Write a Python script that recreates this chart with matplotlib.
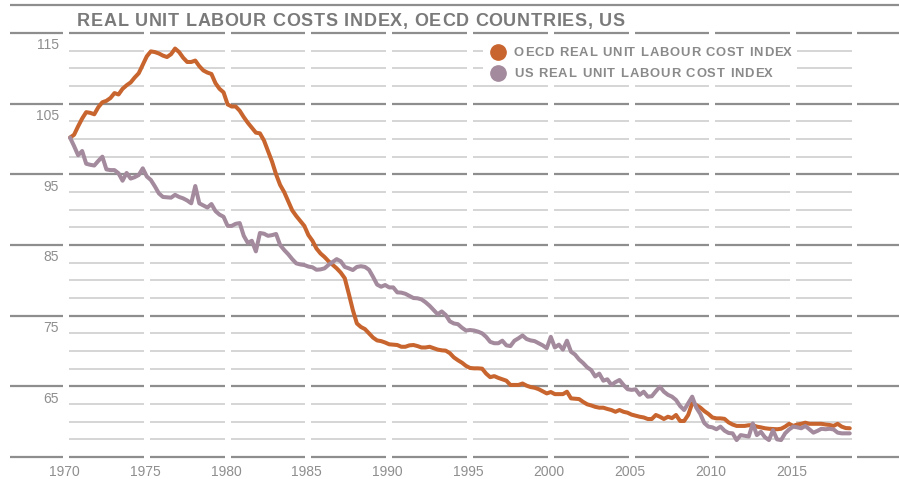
import numpy as np
import matplotlib
matplotlib.use("Agg")
import matplotlib.pyplot as plt
from matplotlib.lines import Line2D
from matplotlib.patches import Rectangle
from matplotlib.font_manager import FontProperties

# quarterly index values, 1970Q2 .. 2018Q3 (one row per year, 4 quarters)
oecd = [
    102.7, 103.1, 104.3, 105.4,  106.3, 106.2, 106.0, 107.0,  107.7, 107.9, 108.3, 109.0,
    108.8, 109.6, 110.1, 110.5,  111.2, 111.8, 113.0, 114.2,  114.9, 114.8, 114.6, 114.3,
    114.1, 114.5, 115.3, 114.8,  114.0, 113.4, 113.4, 113.6,  112.8, 112.2, 111.9, 111.7,
    110.4, 109.6, 109.1, 107.4,  107.1, 107.1, 106.5, 105.6,  104.8, 104.1, 103.4, 103.3,
    102.3, 100.8, 99.3, 97.5,    96.0, 95.0, 93.7, 92.4,      91.6, 90.9, 90.2, 88.9,
    88.1, 87.0, 86.3, 85.8,      85.2, 84.7, 84.2, 83.6,      82.8, 80.6, 78.3, 76.4,
    75.9, 75.6, 75.0, 74.4,      74.0, 73.9, 73.7, 73.45,     73.4, 73.35, 73.1, 73.1,
    73.3, 73.35, 73.2, 73.0,     73.0, 73.1, 72.9, 72.7,      72.6, 72.55, 72.2, 71.6,
    71.2, 70.85, 70.4, 70.1,     70.05, 70.05, 70.0, 69.3,    68.8, 68.95, 68.7, 68.5,
    68.3, 67.7, 67.7, 67.7,      67.9, 67.6, 67.4, 67.3,      67.1, 66.8, 66.5, 66.7,
    66.4, 66.4, 66.4, 66.74,     65.8, 65.75, 65.7, 65.3,     64.96, 64.8, 64.6, 64.48,
    64.48, 64.3, 64.15, 63.9,    64.15, 63.9, 63.77, 63.5,    63.35, 63.2, 63.1, 62.88,
    62.88, 63.45, 63.2, 62.88,   63.2, 63.0, 63.45, 62.6,     62.6, 63.45, 65.1, 64.86,
    64.5, 64.0, 63.6, 63.1,      62.97, 62.97, 62.9, 62.4,    62.1, 61.9, 61.9, 61.9,
    62.0, 62.0, 61.8, 61.7,      61.57, 61.5, 61.47, 61.43,   61.5, 61.8, 62.2, 61.9,
    62.1, 62.2, 62.36, 62.2,     62.2, 62.2, 62.2, 62.1,      62.04, 61.9, 62.2, 61.8,
    61.6, 61.57,
]
us = [
    102.7, 101.5, 100.2, 100.8,  99.0, 98.85, 98.75, 99.4,    100.0, 98.2, 98.1, 98.1,
    97.65, 96.6, 97.7, 96.9,     97.1, 97.4, 98.35, 97.2,     96.7, 95.8, 94.8, 94.3,
    94.25, 94.2, 94.6, 94.3,     94.1, 93.8, 93.4, 95.85,     93.4, 93.1, 92.8, 93.3,
    92.3, 91.8, 91.5, 90.2,      90.2, 90.5, 90.6, 88.8,      87.8, 88.1, 86.6, 89.2,
    89.1, 88.8, 88.9, 89.06,     87.5, 86.8, 86.2, 85.5,      84.9, 84.75, 84.67, 84.45,
    84.35, 84.0, 84.05, 84.2,    84.7, 85.1, 85.5, 85.2,      84.4, 84.2, 83.96, 84.4,
    84.5, 84.4, 84.0, 83.0,      81.9, 81.6, 81.84, 81.5,     81.5, 80.8, 80.76, 80.6,
    80.3, 80.0, 79.96, 79.8,     79.4, 78.9, 78.3, 77.7,      78.1, 77.6, 76.7, 76.4,
    76.3, 75.8, 75.4, 75.47,     75.4, 75.24, 75.0, 74.5,     73.8, 73.6, 73.6, 73.96,
    73.3, 73.2, 73.96, 74.3,     74.7, 74.2, 74.0, 73.9,      73.6, 73.3, 72.9, 74.5,
    73.0, 73.4, 72.7, 73.96,     72.4, 72.0, 71.3, 70.8,      70.2, 69.8, 68.9, 69.3,
    68.3, 68.5, 67.7, 68.1,      68.4, 67.7, 67.1, 67.0,      67.08, 66.3, 66.74, 66.04,
    66.1, 66.8, 67.45, 66.74,    66.3, 66.04, 65.57, 64.72,   64.15, 65.1, 66.04, 64.5,
    63.6, 62.3, 61.8, 61.7,      61.43, 61.8, 61.23, 60.9,    60.85, 59.9, 60.6, 60.5,
    60.4, 62.26, 60.6, 61.07,    60.3, 59.9, 61.3, 60.0,      59.9, 60.85, 61.4, 61.8,
    61.7, 61.57, 61.9, 61.43,    60.95, 61.2, 61.5, 61.43,    61.5, 61.4, 60.95, 60.85,
    60.85, 60.85,
]
quarters = 1970.25 + 0.25 * np.arange(len(oecd))

series_names = ["OECD REAL UNIT LABOUR COST INDEX", "US REAL UNIT LABOUR COST INDEX"]
series_colors = ["#c8652f", "#a38a9d"]
year_ticks = list(range(1970, 2020, 5))
value_labels = [115, 105, 95, 85, 75, 65]
title = "REAL UNIT LABOUR COSTS INDEX, OECD COUNTRIES, US"

plt.rcParams['font.family'] = ['Liberation Sans', 'DejaVu Sans']

W, H = 899, 479
fig = plt.figure(figsize=(W / 100, H / 100), dpi=100)
ax = fig.add_axes([0, 0, 1, 1])
ax.axis('off')
ax.set_xlim(1965.916, 2021.547)
ax.set_ylim(54.39, 122.17)
renderer = fig.canvas.get_renderer()


def text_w(s, fp):
    return renderer.get_text_width_height_descent(s, fp, ismath=False)[0]


def spaced_text(x_px, y_px, s, width_px, fp, color):
    # draw s char by char so the letters are spread to the given width
    hh = text_w("HH", fp)
    adv = [text_w("H" + ch + "H", fp) - hh for ch in s]
    adv[-1] = text_w(s[-1], fp)
    track = (width_px - sum(adv)) / (len(s) - 1)
    x = x_px
    for ch, a in zip(s, adv):
        fig.text(x / W, 1 - y_px / H, ch, ha='left', va='baseline',
                 fontproperties=fp, color=color, zorder=6)
        x += a + track


major_col = "#8e8e8e"
minor_col = "#d2d2d2"
data_end = 2018.64
majors = np.arange(57.5, 118, 10)
minors = [v for v in np.arange(57.5, 118, 2.5) if (v - 57.5) % 10 != 0]

# grid broken into 5-year pieces
for y0 in year_ticks:
    x0, x1 = y0 + 0.19, min(y0 + 4.81, data_end)
    ax.hlines(minors, x0, x1, color=minor_col, lw=1.3, zorder=1)
    ax.hlines(majors, x0, x1, color=major_col, lw=1.6, zorder=1)
ax.hlines(majors, 1966.53, 1969.81, color=major_col, lw=1.6, zorder=1)
ax.hlines(majors, 2018.95, 2021.6, color=major_col, lw=1.6, zorder=1)
ax.hlines([121.46], 1966.53, 2021.6, color=major_col, lw=1.6, zorder=1)

ax.plot(quarters, oecd, color=series_colors[0], lw=2.9, zorder=3,
        solid_joinstyle='round', solid_capstyle='round')
ax.plot(quarters, us, color=series_colors[1], lw=2.9, zorder=4,
        solid_joinstyle='round', solid_capstyle='round')

tick_col = "#8e8e8e"
for v in value_labels:
    ax.text(1969.57, v + 0.2, str(v), ha='right', va='baseline',
            fontsize=10, color=tick_col)
for yr in year_ticks:
    ax.text(yr - 0.1, 55.45, str(yr), ha='center', va='center',
            fontsize=10, color=tick_col)

# title
spaced_text(77, 26, title, 548,
            FontProperties(family='Liberation Sans', weight='bold', size=13), "#7a7a7a")

# legend: white box, dots and labels
fig.patches.append(Rectangle((483 / W, 1 - 82 / H), (797 - 483) / W, 42 / H,
                             transform=fig.transFigure, facecolor='white',
                             edgecolor='none', zorder=5))
leg_fp = FontProperties(family='Liberation Sans', weight='bold', size=9.4)
for name, col, yc, wd in zip(series_names, series_colors, [52, 72.7], [278, 259]):
    fig.add_artist(Line2D([498 / W], [1 - yc / H], marker='o', markersize=11,
                          markerfacecolor=col, markeredgecolor=col, ls='none',
                          transform=fig.transFigure, zorder=6))
    spaced_text(514, yc + 4.5, name, wd, leg_fp, "#8a8a8a")

fig.savefig("out.png", dpi=100)
